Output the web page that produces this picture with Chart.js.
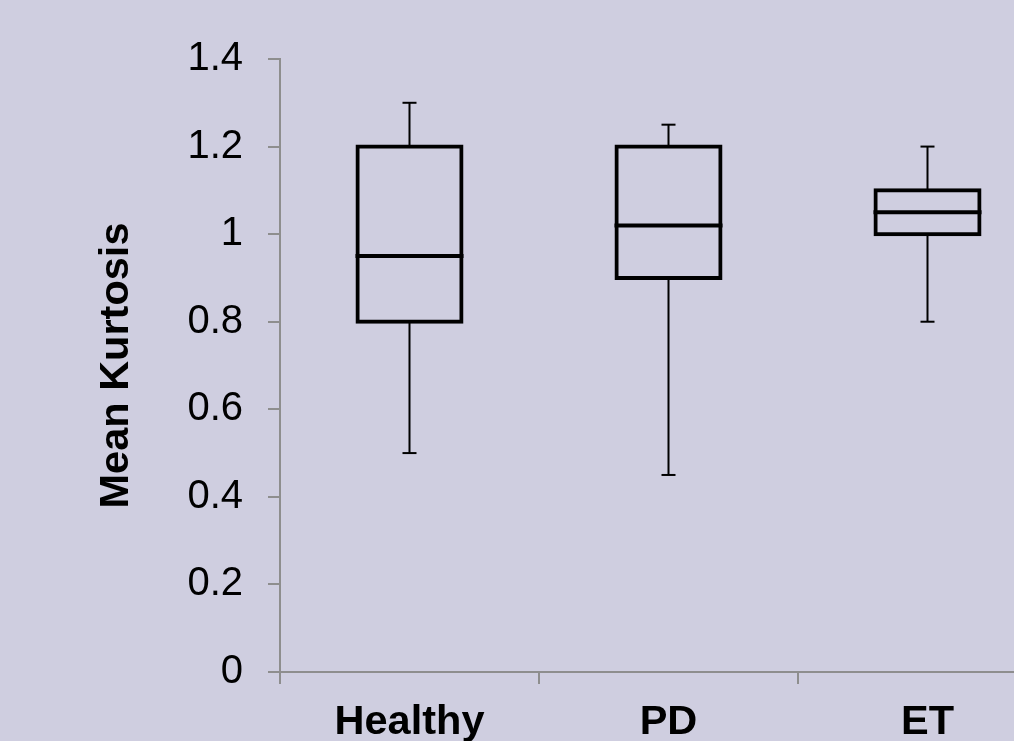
<!DOCTYPE html>
<html>
<head>
<meta charset="utf-8">
<script src="https://cdn.jsdelivr.net/npm/chart.js@4.4.1/dist/chart.umd.min.js"></script>
<style>
  html, body { margin: 0; padding: 0; background: #cfcee0; overflow: hidden; }
  #wrap { position: relative; width: 1070px; height: 741px; }
  canvas { display: block; }
</style>
</head>
<body>
<div id="wrap"><canvas id="c" width="1070" height="741"></canvas></div>
<script>
const categories = ['Healthy', 'PD', 'ET'];
const whiskerMin = [0.5, 0.45, 0.8];
const q1Values = [0.8, 0.9, 1.0];
const medianValues = [0.95, 1.02, 1.05];
const q3Values = [1.2, 1.2, 1.1];
const whiskerMax = [1.3, 1.25, 1.2];
const yTickLabels = ['0', '0.2', '0.4', '0.6', '0.8', '1', '1.2', '1.4'];
const yAxisTitle = 'Mean Kurtosis';

const BG = '#cfcee0';
const AXIS = '#8e8e8e';

const boxData = categories.map((c, i) => [q1Values[i], q3Values[i]]);
const whiskerData = categories.map((c, i) => [whiskerMin[i], whiskerMax[i]]);

new Chart(document.getElementById('c'), {
  data: {
    labels: categories,
    datasets: [
      {
        type: 'line',
        data: medianValues,
        showLine: false,
        pointStyle: 'line',
        pointRadius: 54,
        pointHoverRadius: 54,
        pointBorderWidth: 4,
        pointBorderColor: '#000',
        borderColor: '#000',
        clip: false,
        order: 0
      },
      {
        type: 'line',
        data: whiskerMax,
        showLine: false,
        pointStyle: 'line',
        pointRadius: 7,
        pointHoverRadius: 7,
        pointBorderWidth: 2,
        pointBorderColor: '#000',
        borderColor: '#000',
        clip: false,
        order: 1
      },
      {
        type: 'line',
        data: whiskerMin,
        showLine: false,
        pointStyle: 'line',
        pointRadius: 7,
        pointHoverRadius: 7,
        pointBorderWidth: 2,
        pointBorderColor: '#000',
        borderColor: '#000',
        clip: false,
        order: 2
      },
      {
        type: 'bar',
        data: boxData,
        grouped: false,
        barThickness: 104,
        inflateAmount: 2,
        backgroundColor: BG,
        borderColor: '#000',
        borderWidth: 4,
        borderSkipped: false,
        order: 3
      },
      {
        type: 'bar',
        data: whiskerData,
        grouped: false,
        barThickness: 2,
        inflateAmount: 0,
        backgroundColor: '#000',
        borderWidth: 0,
        order: 4
      }
    ]
  },
  options: {
    responsive: false,
    animation: false,
    events: [],
    layout: { autoPadding: false, padding: { left: 0, right: 13, top: 59, bottom: 0 } },
    plugins: { legend: { display: false }, tooltip: { enabled: false } },
    scales: {
      x: {
        type: 'category',
        offset: true,
        grid: { offset: true, drawOnChartArea: false, drawTicks: true, tickLength: 12, color: AXIS, lineWidth: 2 },
        border: { display: true, color: AXIS, width: 2 },
        ticks: {
          color: '#000',
          padding: 14,
          font: { family: 'Liberation Sans, Arial, sans-serif', size: 41.5, weight: 'bold' },
          maxRotation: 0,
          autoSkip: false
        },
        afterFit: (s) => { s.height = 69; s.paddingLeft = 0; s.paddingRight = 0; }
      },
      y: {
        min: 0,
        max: 1.4,
        grid: { drawOnChartArea: false, drawTicks: true, tickLength: 12, color: AXIS, lineWidth: 2 },
        border: { display: true, color: AXIS, width: 2 },
        ticks: {
          stepSize: 0.2,
          color: '#000',
          padding: 25,
          font: { family: 'Liberation Sans, Arial, sans-serif', size: 40 },
          callback: (v) => yTickLabels[Math.round(v / 0.2)]
        },
        title: {
          display: true,
          text: yAxisTitle,
          color: '#000',
          padding: { top: 92, bottom: 0 },
          font: { family: 'Liberation Sans, Arial, sans-serif', size: 41.5, weight: 'bold' }
        },
        afterFit: (s) => { s.width = 280; s.paddingTop = 0; s.paddingBottom = 0; }
      }
    }
  }
});
</script>
</body>
</html>
